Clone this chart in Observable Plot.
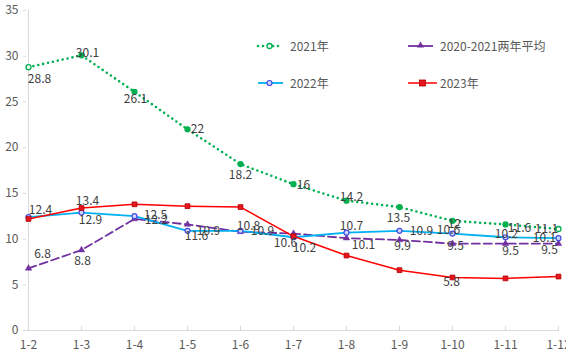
<!DOCTYPE html>
<html>
<head>
<meta charset="utf-8">
<script src="https://cdn.jsdelivr.net/npm/d3@7"></script>
<script src="https://cdn.jsdelivr.net/npm/@observablehq/plot@0.6"></script>
<style>
  html, body { margin: 0; padding: 0; background: #fff; }
  #wrap { position: relative; width: 566px; height: 358px; overflow: hidden; font-family: "Noto Sans CJK SC", "Noto Sans", sans-serif; }
  #legend { position: absolute; left: 0; top: 0; width: 566px; height: 358px; pointer-events: none; }
  .lg { position: absolute; font-size: 12px; color: #595959; line-height: 14px; white-space: nowrap; }
</style>
</head>
<body>
<div id="wrap"></div>
<script>
// ---- data ----
const categories = ["1-2","1-3","1-4","1-5","1-6","1-7","1-8","1-9","1-10","1-11","1-12"];
const series2021 = [28.8,30.1,26.1,22,18.2,16,14.2,13.5,12,11.6,11.1];
const seriesAvg = [6.8,8.8,12.2,11.6,10.8,10.6,10.1,9.9,9.5,9.5,9.5];
const series2022 = [12.4,12.9,12.5,10.9,10.9,10.2,10.7,10.9,10.6,10.2,10.1];
const series2023 = [12.2,13.4,13.8,13.6,13.5,10.3,8.2,6.6,5.8,5.7,5.9];
const seriesNames = ["2021年","2020-2021两年平均","2022年","2023年"];
const yTicks = [0,5,10,15,20,25,30,35];
const labeled2023 = [1, 8];

// ---- label offsets (layout only) ----
const off2021 = [[11,12],[6,-2],[1,7],[10,0],[0,11],[10,1],[5,-4],[-1,11],[2,3],[14,4],[-12,0]];
const off2022 = [[12,-7],[9,8],[21,-1],[21,0],[22,0],[11,11],[5,-7],[22,0],[-4,-3],[1,-3],[-14,0]];
const offAvg  = [[14,-14],[1,11],[22,1],[9,12],[8,-6],[-8,10],[17,7],[3,6],[3,3],[5,8],[-9,7]];
const off2023 = {1:[6,-7], 8:[-1,5]};

const rows = (vals) => categories.map((c, i) => ({cat: c, v: vals[i], i}));
const d2021 = rows(series2021), dAvg = rows(seriesAvg), d2022 = rows(series2022), d2023 = rows(series2023);

const C = {g: "#00B050", p: "#7030A0", b: "#00B0F0", r: "#FF0000"};
const labelFill = "#404040";

function labels(data, offs, idx) {
  const list = idx ? idx : data.map(d => d.i);
  return list.map(i => Plot.text([data[i]], {
    x: "cat", y: "v", text: d => String(d.v),
    dx: offs[i][0], dy: offs[i][1],
    fill: labelFill, fontSize: 12, textAnchor: "middle", lineAnchor: "middle"
  }));
}

const chart = Plot.plot({
  width: 566, height: 358,
  marginLeft: 26, marginRight: 7, marginTop: 10, marginBottom: 28,
  style: {fontFamily: '"Noto Sans CJK SC", "Noto Sans", sans-serif', fontSize: "12px", color: "#595959", background: "#fff", overflow: "visible"},
  x: {type: "point", domain: categories, padding: 0},
  y: {domain: [0, 35]},
  marks: [
    Plot.ruleY([0], {stroke: "#d9d9d9", strokeWidth: 1}),
    Plot.ruleX([categories[0]], {stroke: "#d9d9d9", strokeWidth: 1}),
    Plot.axisY({ticks: yTicks, tickSize: 3, tickPadding: 5, stroke: "#d9d9d9", fill: "#595959", label: null, fontSize: 12}),
    Plot.axisX({tickSize: 4, dy: -4, stroke: "#d9d9d9", tickFormat: () => "", label: null}),
    Plot.axisX({tickSize: 0, tickPadding: 10, fill: "#595959", label: null, fontSize: 12}),
    // 2021
    Plot.line(d2021, {x: "cat", y: "v", stroke: C.g, strokeWidth: 2.6, strokeDasharray: "0 5", strokeLinecap: "round"}),
    Plot.dot(d2021, {x: "cat", y: "v", r: 2.5, stroke: C.g, strokeWidth: 1.3, fill: d => (d.i === 0 || d.i === categories.length - 1) ? "#fff" : C.g}),
    // avg
    Plot.line(dAvg, {x: "cat", y: "v", stroke: C.p, strokeWidth: 1.8, strokeDasharray: "8 4"}),
    Plot.dot(dAvg, {x: "cat", y: "v", symbol: "triangle", r: 2.4, fill: C.p, stroke: C.p, strokeWidth: 0.5}),
    // 2022
    Plot.line(d2022, {x: "cat", y: "v", stroke: C.b, strokeWidth: 1.8}),
    Plot.dot(d2022, {x: "cat", y: "v", r: 2.5, stroke: "#4848e0", strokeWidth: 1.2, fill: "#c8d8ff"}),
    // 2023
    Plot.line(d2023, {x: "cat", y: "v", stroke: C.r, strokeWidth: 1.5}),
    Plot.dot(d2023, {x: "cat", y: "v", symbol: "square", r: 2.7, fill: "#e8141e", stroke: "#b00000", strokeWidth: 0.8}),
    // labels
    ...labels(d2021, off2021),
    ...labels(dAvg, offAvg),
    ...labels(d2022, off2022),
    ...labels(d2023, off2023, labeled2023)
  ]
});

const wrap = document.getElementById("wrap");
wrap.appendChild(chart);

// ---- legend (inside plot area) ----
const legendItems = [
  {name: seriesNames[0], x: 258, y: 46, w: 25, color: C.g, kind: "dot"},
  {name: seriesNames[2], x: 258, y: 83, w: 25, color: C.b, kind: "blue"},
  {name: seriesNames[1], x: 408, y: 46, w: 25, color: C.p, kind: "tri"},
  {name: seriesNames[3], x: 408, y: 83, w: 29, color: C.r, kind: "sq"}
];
const lsvg = d3.select(wrap).append("svg").attr("id", "legend").attr("width", 566).attr("height", 358);
legendItems.forEach(it => {
  const cx = it.x + it.w / 2;
  if (it.kind === "dot") {
    lsvg.append("line").attr("x1", it.x).attr("x2", it.x + it.w).attr("y1", it.y).attr("y2", it.y)
      .attr("stroke", it.color).attr("stroke-width", 2.6).attr("stroke-dasharray", "0 5").attr("stroke-linecap", "round");
    lsvg.append("circle").attr("cx", cx - 1).attr("cy", it.y).attr("r", 2.5).attr("fill", "#fff").attr("stroke", it.color).attr("stroke-width", 1.3);
  } else if (it.kind === "blue") {
    lsvg.append("line").attr("x1", it.x).attr("x2", it.x + it.w).attr("y1", it.y).attr("y2", it.y).attr("stroke", it.color).attr("stroke-width", 1.8);
    lsvg.append("circle").attr("cx", cx - 1).attr("cy", it.y).attr("r", 2.5).attr("fill", "#c8d8ff").attr("stroke", "#4848e0").attr("stroke-width", 1.2);
  } else if (it.kind === "tri") {
    lsvg.append("line").attr("x1", it.x).attr("x2", it.x + it.w).attr("y1", it.y).attr("y2", it.y).attr("stroke", it.color).attr("stroke-width", 1.8);
    lsvg.append("path").attr("d", d3.symbol(d3.symbolTriangle, 22)()).attr("transform", `translate(${cx},${it.y - 0.5})`).attr("fill", it.color);
  } else {
    lsvg.append("line").attr("x1", it.x).attr("x2", it.x + it.w).attr("y1", it.y).attr("y2", it.y).attr("stroke", it.color).attr("stroke-width", 1.5);
    lsvg.append("rect").attr("x", cx - 3).attr("y", it.y - 3).attr("width", 6).attr("height", 6).attr("fill", "#e8141e").attr("stroke", "#b00000").attr("stroke-width", 0.8);
  }
  const div = document.createElement("div");
  div.className = "lg";
  div.textContent = it.name;
  div.style.left = (it.x + 32) + "px";
  div.style.top = (it.y - 7) + "px";
  wrap.appendChild(div);
});
</script>
</body>
</html>
